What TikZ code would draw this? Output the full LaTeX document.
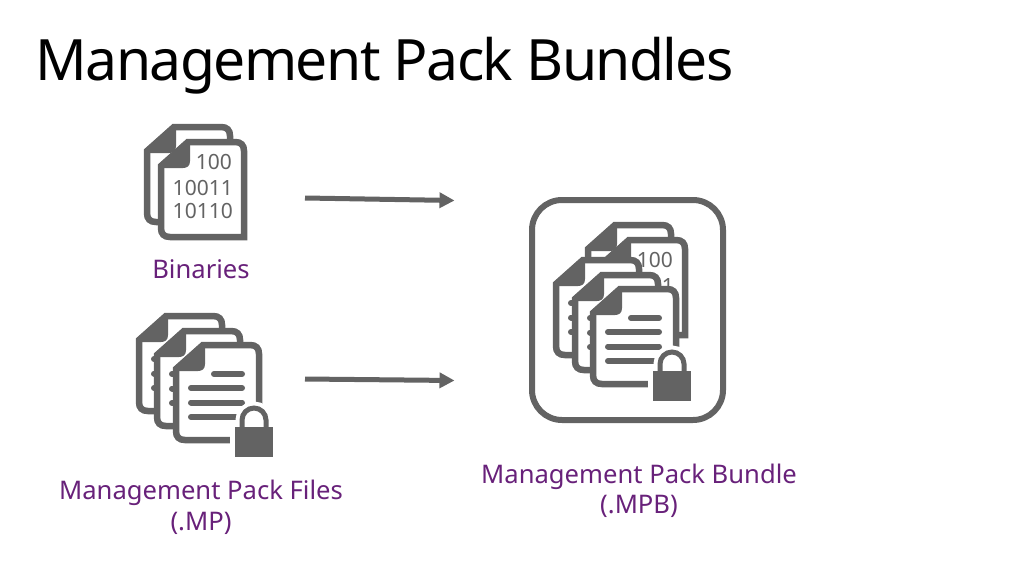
\documentclass[tikz,border=0pt]{standalone}
\usepackage{fontspec}
\setmainfont{Noto Sans}
\newfontfamily\titlefont[LetterSpace=-2.8]{Noto Sans}
\usetikzlibrary{arrows.meta}
\definecolor{icongray}{HTML}{636363}
\definecolor{labelpurple}{HTML}{68217A}
\tikzset{
  iconline/.style={draw=icongray, line width=6.5pt, fill=white},
  textline/.style={draw=icongray, line width=6pt, line cap=round},
  packlabel/.style={text=labelpurple, align=center, font=\fontsize{25.6}{30.5}\selectfont},
  digits/.style={text=icongray, anchor=base east, inner sep=0pt, font=\fontsize{21}{24}\selectfont},
  flowarrow/.style={draw=icongray, line width=5pt, -{Triangle[length=15pt,width=15pt]}},
  pics/binsheet/.style={code={
    \draw[iconline] (3,27) -- (30,3) -- (77,3) .. controls (83,3) and (86,6) .. (86,12) -- (86,98) -- (12,98) .. controls (6,98) and (3,95) .. (3,89) -- cycle;
    \fill[icongray] (0,26) -- (29,0) -- (32,0) -- (32,22) .. controls (32,27) and (29,29) .. (25,29) -- (0,29) -- cycle;
  }},
  pics/docsheet/.style={code={
    \draw[iconline] (3,27) -- (30,3) -- (77,3) .. controls (83,3) and (86,6) .. (86,12) -- (86,89) .. controls (86,95) and (83,98) .. (77,98) -- (12,98) .. controls (6,98) and (3,95) .. (3,89) -- cycle;
    \fill[icongray] (0,26) -- (29,0) -- (32,0) -- (32,22) .. controls (32,27) and (29,29) .. (25,29) -- (0,29) -- cycle;
    \draw[textline] (41,32) -- (69,32);
    \draw[textline] (18,46) -- (69,46);
    \draw[textline] (18,60.5) -- (69,60.5);
    \draw[textline] (18,75) -- (69,75);
  }},
  pics/lockicon/.style={code={
    % white gap round the lock
    \fill[white] (-24,1) rectangle (22,40);
    \draw[white, fill=white, line width=13pt] (-12,8) -- (-12,0) .. controls (-12,-6.6) and (-6.6,-12) .. (0,-12) .. controls (6.6,-12) and (12,-6.6) .. (12,0) -- (12,8);
    \draw[icongray, line width=5pt] (-12,8) -- (-12,0) .. controls (-12,-6.6) and (-6.6,-12) .. (0,-12) .. controls (6.6,-12) and (12,-6.6) .. (12,0) -- (12,8);
    \fill[icongray] (-19,7) rectangle (19,37);
  }},
}

\begin{document}
\begin{tikzpicture}[x=1pt,y=-1pt]
\useasboundingbox (0,0) rectangle (1024,575);
% Title
\node[anchor=base west, inner sep=0pt, font=\titlefont\fontsize{57}{60}\selectfont] (title) at (35.5,81) {Management Pack Bundles};
% Binaries
\pic at (144,124) {binsheet};
\pic at (158,139) {binsheet};
\node[digits] (binA) at (232,169) {100};
\node[digits] (binB) at (233,195) {10011};
\node[digits] (binC) at (233,218) {10110};
\node[packlabel] (binaries) at (201,269) {Binaries};
% Management pack files
\foreach \x/\y in {136/313,154/328,173/342}
  \pic at (\x,\y) {docsheet};
\pic at (254,420) {lockicon};
\node[packlabel] (mpfiles) at (201,507.5) {Management Pack Files\\(.MP)};
% Bundle
\draw[draw=icongray, line width=6pt, rounded corners=30pt] (532,200) rectangle (723,420);
\pic at (585,222) {binsheet};
\pic at (599,237) {binsheet};
\node[digits] (bunA) at (673,267) {100};
\node[digits] (bunB) at (674,293) {10011};
\foreach \x/\y in {553/257,572/272,590/286}
  \pic at (\x,\y) {docsheet};
\pic at (672,364) {lockicon};
\node[packlabel] (mpbundle) at (639,491) {Management Pack Bundle\\(.MPB)};
% Arrows
\coordinate (binout) at (305,198);
\coordinate (binin) at (454.5,200.5);
\coordinate (mpout) at (305,379);
\coordinate (mpin) at (454.5,380.5);
\draw[flowarrow] (binout) -- (binin);
\draw[flowarrow] (mpout) -- (mpin);
\end{tikzpicture}
\end{document}
